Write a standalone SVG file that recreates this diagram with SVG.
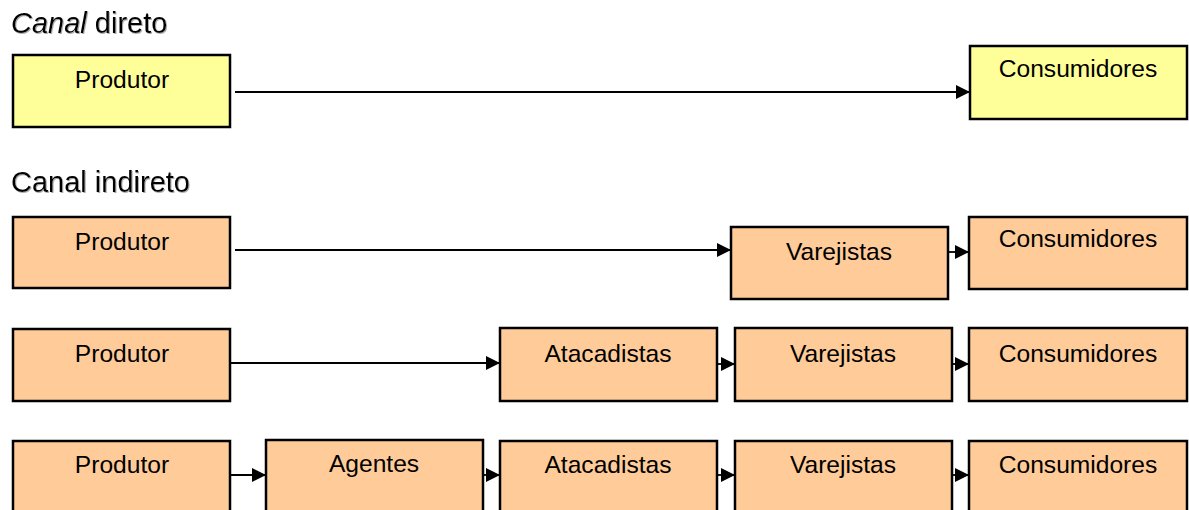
<svg xmlns="http://www.w3.org/2000/svg" width="1189" height="510" viewBox="0 0 1189 510">
<style>
.box{stroke:#000;stroke-width:2.5}
.y{fill:#FFFF99}
.o{fill:#FFCC99}
.t{font-family:"Liberation Sans",Arial,sans-serif;font-size:24.6px;fill:#000;text-anchor:middle}
.h{font-family:"Liberation Sans",Arial,sans-serif;font-size:29px;fill:#000;filter:url(#sh)}
.c{stroke:#000;stroke-width:1.8;fill:none;marker-end:url(#ah)}
</style>
<defs>
<marker id="ah" markerUnits="userSpaceOnUse" markerWidth="15" markerHeight="15" refX="14" refY="7" orient="auto">
<path d="M0,0 L14,7 L0,14 Z" fill="#000"/>
</marker>
<filter id="sh" x="-5%" y="-20%" width="110%" height="140%">
<feDropShadow dx="1" dy="1" stdDeviation="0.6" flood-color="#999" flood-opacity="0.8"/>
</filter>
</defs>
<rect width="1189" height="510" fill="#fff"/>
<text class="h" x="11" y="33"><tspan font-style="italic">Canal</tspan> direto</text>
<text class="h" x="11" y="192">Canal indireto</text>
<g id="connectors">
<line class="c" x1="235" y1="92" x2="970" y2="92"/>
<line class="c" x1="235" y1="250" x2="731" y2="250"/>
<line class="c" x1="948" y1="252" x2="969" y2="252"/>
<line class="c" x1="230" y1="363" x2="500" y2="363"/>
<line class="c" x1="717" y1="364" x2="735" y2="364"/>
<line class="c" x1="952" y1="364" x2="969" y2="364"/>
<line class="c" x1="230" y1="475" x2="266" y2="475"/>
<line class="c" x1="483" y1="475" x2="500" y2="475"/>
<line class="c" x1="717" y1="475" x2="735" y2="475"/>
<line class="c" x1="952" y1="475" x2="969" y2="475"/>
</g>
<g id="d-produtor"><rect class="box y" x="13" y="55" width="217" height="72"/><text class="t" x="122" y="88">Produtor</text></g>
<g id="d-consumidores"><rect class="box y" x="970" y="46" width="217" height="73"/><text class="t" x="1078" y="77">Consumidores</text></g>
<g id="r1-produtor"><rect class="box o" x="13" y="217" width="217" height="71"/><text class="t" x="122" y="250">Produtor</text></g>
<g id="r1-varejistas"><rect class="box o" x="731" y="227" width="217" height="72"/><text class="t" x="839" y="260">Varejistas</text></g>
<g id="r1-consumidores"><rect class="box o" x="969" y="217" width="218" height="72"/><text class="t" x="1078" y="247">Consumidores</text></g>
<g id="r2-produtor"><rect class="box o" x="13" y="329" width="217" height="72"/><text class="t" x="122" y="362">Produtor</text></g>
<g id="r2-atacadistas"><rect class="box o" x="500" y="328" width="217" height="73"/><text class="t" x="608" y="362">Atacadistas</text></g>
<g id="r2-varejistas"><rect class="box o" x="735" y="328" width="217" height="73"/><text class="t" x="843" y="362">Varejistas</text></g>
<g id="r2-consumidores"><rect class="box o" x="969" y="328" width="218" height="73"/><text class="t" x="1078" y="362">Consumidores</text></g>
<g id="r3-produtor"><rect class="box o" x="13" y="441" width="217" height="73"/><text class="t" x="122" y="473">Produtor</text></g>
<g id="r3-agentes"><rect class="box o" x="266" y="440" width="217" height="74"/><text class="t" x="374" y="472">Agentes</text></g>
<g id="r3-atacadistas"><rect class="box o" x="500" y="441" width="217" height="73"/><text class="t" x="608" y="473">Atacadistas</text></g>
<g id="r3-varejistas"><rect class="box o" x="735" y="441" width="217" height="73"/><text class="t" x="843" y="473">Varejistas</text></g>
<g id="r3-consumidores"><rect class="box o" x="969" y="441" width="218" height="73"/><text class="t" x="1078" y="473">Consumidores</text></g>
</svg>
